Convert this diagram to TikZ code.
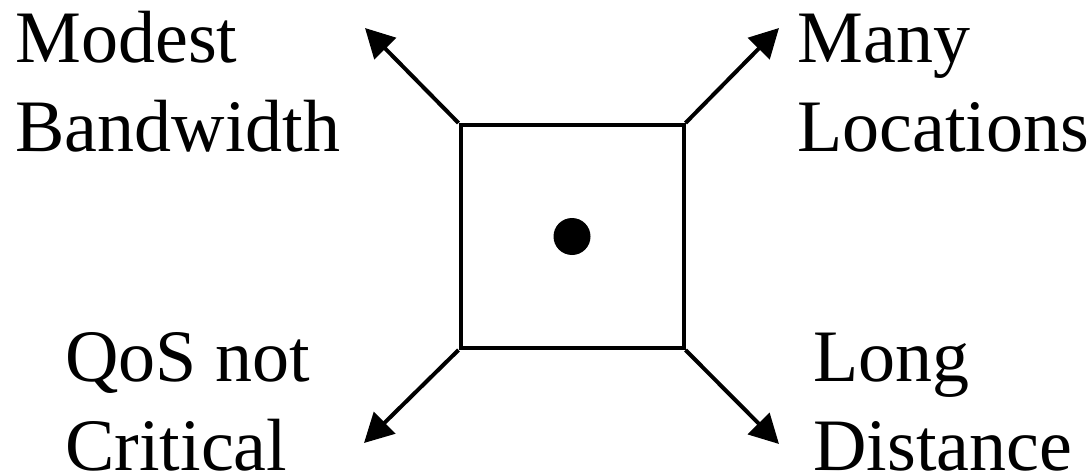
\documentclass[tikz,border=0pt]{standalone}
\usepackage{fontspec}
\setmainfont{Liberation Serif}
\usepackage{tikz}
\usetikzlibrary{arrows.meta,positioning,calc}

\begin{document}
\begin{tikzpicture}[x=0.5pt, y=-0.5pt,
    lbl/.style={font=\fontsize{37pt}{44.5pt}\selectfont, inner sep=0pt, anchor=base west, align=left},
    arr/.style={line width=2pt, -{Triangle[length=14.5pt, width=15pt]}}
]
\useasboundingbox (0,0) rectangle (1092,476);

% Centre box
\node[draw, line width=2pt, minimum size=111.5pt, inner sep=0pt] (sq) at (572,236.5) {};
\node[circle, fill, minimum size=18.5pt, inner sep=0pt] (dot) at (sq.center) {};

% Arrow ends
\coordinate (tl) at (365,28);
\coordinate (tr) at (779,28);
\coordinate (bl) at (364,443);
\coordinate (br) at (779,444);
\draw[arr] (sq.north west) -- (tl);
\draw[arr] (sq.north east) -- (tr);
\draw[arr] (sq.south west) -- (bl);
\draw[arr] (sq.south east) -- (br);

% Labels (base = last line)
\node[lbl] (modest) at (15,152) {Modest\\Bandwidth};
\node[lbl] (many) at (797,152) {Many\\Locations};
\node[lbl] (qos) at (65,470) {QoS not\\Critical};
\node[lbl] (long) at (813,470) {Long\\Distance};
\end{tikzpicture}
\end{document}
